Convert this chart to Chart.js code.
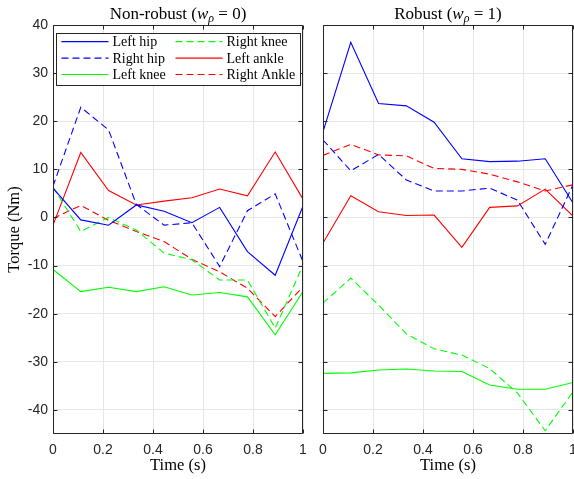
<!DOCTYPE html>
<html>
<head>
<meta charset="utf-8">
<script src="https://cdn.jsdelivr.net/npm/chart.js@4/dist/chart.umd.min.js"></script>
<style>
  body { margin: 0; background: #fff; }
  #wrap { position: relative; width: 574px; height: 479px; }
  #wrap canvas { position: absolute; left: 0; top: 0; }
</style>
</head>
<body>
<div id="wrap">
  <canvas id="nonrobust" width="574" height="479"></canvas>
  <canvas id="robust" width="574" height="479"></canvas>
</div>
<script>
// sample times (s), ten knots over one second
const time = [0, 1/9, 2/9, 3/9, 4/9, 5/9, 6/9, 7/9, 8/9, 1];
const xTicks = [0, 0.2, 0.4, 0.6, 0.8, 1];
const yTicks = [-40, -30, -20, -10, 0, 10, 20, 30, 40];

const jointNames = ['Left hip', 'Right hip', 'Left knee', 'Right knee', 'Left ankle', 'Right Ankle'];

// non-robust torques (Nm)
const nrLeftHip    = [6.1, -0.5, -1.6, 2.6, 1.3, -1.1, 2.1, -7.1, -12.0, 2.4];
const nrRightHip   = [6.5, 22.9, 18.2, 2.7, -1.6, -1.1, -10.2, 1.4, 4.9, -9.2];
const nrLeftKnee   = [-10.8, -15.4, -14.5, -15.4, -14.4, -16.1, -15.6, -16.5, -24.4, -15.4];
const nrRightKnee  = [6.3, -2.9, 0.0, -2.6, -7.4, -8.8, -13.0, -13.0, -23.0, -9.9];
const nrLeftAnkle  = [-1.6, 13.5, 5.6, 2.6, 3.4, 4.1, 5.9, 4.5, 13.6, 3.8];
const nrRightAnkle = [-0.2, 2.5, -0.6, -2.9, -5.0, -8.7, -11.3, -14.7, -20.6, -14.4];

// robust torques (Nm)
const rLeftHip    = [17.8, 36.4, 23.7, 23.2, 19.8, 12.2, 11.6, 11.7, 12.2, 3.0];
const rRightHip   = [16.1, 9.7, 13.1, 7.8, 5.5, 5.5, 6.1, 3.6, -5.6, 6.8];
const rLeftKnee   = [-32.4, -32.3, -31.7, -31.5, -31.9, -32.0, -34.8, -35.7, -35.7, -34.3];
const rRightKnee  = [-17.8, -12.6, -18.2, -24.2, -27.3, -28.6, -31.4, -36.5, -44.3, -36.2];
const rLeftAnkle  = [-5.3, 4.5, 1.2, 0.4, 0.5, -6.2, 2.1, 2.4, 5.9, 0.3];
const rRightAnkle = [12.9, 15.2, 13.0, 12.8, 10.2, 10.0, 9.0, 7.4, 5.5, 6.8];

const lineStyles = [
  { color: '#0000ff', dash: [] },
  { color: '#0000ff', dash: [7, 4] },
  { color: '#00ff00', dash: [] },
  { color: '#00ff00', dash: [7, 4] },
  { color: '#ff0000', dash: [] },
  { color: '#ff0000', dash: [7, 4] }
];

const axisColor = '#262626';
const sans = "'Liberation Sans', Arial, sans-serif";
const serif = "'Liberation Serif', 'Times New Roman', serif";

// matlab style box with inward ticks
const boxAxes = {
  id: 'boxAxes',
  afterDatasetsDraw(chart) {
    const { ctx, chartArea: a, scales } = chart;
    ctx.save();
    ctx.strokeStyle = axisColor;
    ctx.lineWidth = 1;
    ctx.setLineDash([]);
    ctx.beginPath();
    const L = Math.round(a.left) + 0.5, R = Math.round(a.right) - 0.5;
    const T = Math.round(a.top) + 0.5, B = Math.round(a.bottom) - 0.5;
    ctx.rect(L, T, R - L, B - T);
    const len = 4;
    yTicks.forEach(v => {
      const y = Math.round(scales.y.getPixelForValue(v)) + 0.5;
      ctx.moveTo(L, y); ctx.lineTo(L + len, y);
      ctx.moveTo(R, y); ctx.lineTo(R - len, y);
    });
    xTicks.forEach(v => {
      const x = Math.round(scales.x.getPixelForValue(v)) + 0.5;
      ctx.moveTo(x, B); ctx.lineTo(x, B - len);
      ctx.moveTo(x, T); ctx.lineTo(x, T + len);
    });
    ctx.stroke();
    ctx.restore();
  }
};

// title with italic w and subscript rho
const panelTitle = {
  id: 'panelTitle',
  afterDraw(chart, args, opts) {
    const { ctx, chartArea: a } = chart;
    const parts = [
      { t: opts.name + ' (', f: '17px ' + serif, dy: 0 },
      { t: 'w', f: 'italic 17px ' + serif, dy: 0 },
      { t: 'ρ', f: 'italic 12px ' + serif, dy: 3 },
      { t: ' = ' + opts.weight + ')', f: '17px ' + serif, dy: 0 }
    ];
    ctx.save();
    ctx.fillStyle = '#000';
    ctx.textBaseline = 'alphabetic';
    let total = 0;
    parts.forEach(p => { ctx.font = p.f; p.w = ctx.measureText(p.t).width; total += p.w; });
    let x = (a.left + a.right) / 2 - total / 2;
    parts.forEach(p => {
      ctx.font = p.f;
      ctx.fillText(p.t, x, 18.5 + p.dy);
      x += p.w;
    });
    ctx.restore();
  }
};

// two column legend in the upper corner
const colLegend = {
  id: 'colLegend',
  afterDraw(chart, args, opts) {
    if (!opts.show) return;
    const { ctx, chartArea: a } = chart;
    const bx = a.left + 3.5, by = a.top + 8.5, bw = 244, bh = 52;
    ctx.save();
    ctx.setLineDash([]);
    ctx.fillStyle = '#ffffff';
    ctx.fillRect(bx, by, bw, bh);
    ctx.strokeStyle = axisColor;
    ctx.lineWidth = 1;
    ctx.strokeRect(bx, by, bw, bh);
    ctx.font = '14px ' + serif;
    ctx.textBaseline = 'middle';
    jointNames.forEach((name, i) => {
      const col = Math.floor(i / 3), row = i % 3;
      const x0 = bx + 5 + col * 114;
      const y = by + 8.2 + row * 16.4;
      ctx.lineWidth = 1.2;
      ctx.strokeStyle = lineStyles[i].color;
      ctx.setLineDash(lineStyles[i].dash);
      ctx.beginPath();
      ctx.moveTo(x0, y);
      ctx.lineTo(x0 + 47, y);
      ctx.stroke();
      ctx.setLineDash([]);
      ctx.fillStyle = '#000000';
      ctx.fillText(name, x0 + 51, y + 1);
    });
    ctx.restore();
  }
};

function buildPanel(id, series, name, weight, first) {
  const datasets = series.map((vals, i) => ({
    label: jointNames[i],
    data: vals.map((v, k) => ({ x: time[k], y: v })),
    borderColor: lineStyles[i].color,
    backgroundColor: lineStyles[i].color,
    borderDash: lineStyles[i].dash,
    borderWidth: 1.1,
    pointRadius: 0,
    fill: false,
    tension: 0
  }));
  return new Chart(document.getElementById(id), {
    type: 'line',
    data: { datasets },
    options: {
      responsive: false,
      animation: false,
      layout: { padding: first ? { left: 0, top: 25, right: 271, bottom: 0 } : { left: 270, top: 25, right: 1, bottom: 0 } },
      plugins: {
        legend: { display: false },
        tooltip: { enabled: false },
        panelTitle: { name, weight },
        colLegend: { show: first }
      },
      scales: {
        x: {
          type: 'linear', min: 0, max: 1,
          afterBuildTicks: s => { s.ticks = xTicks.map(v => ({ value: v })); },
          afterFit: s => { s.height = 45; s.paddingLeft = 0; s.paddingRight = 0; },
          grid: { color: '#e6e6e6', drawTicks: false },
          border: { display: false },
          ticks: { padding: 8, color: axisColor, autoSkip: false, maxRotation: 0,
                   font: { family: sans, size: 14 }, callback: v => String(v) },
          title: { display: true, text: 'Time (s)', color: '#000',
                   font: { family: serif, size: 16.5 }, padding: { top: 0, bottom: 3 } }
        },
        y: {
          min: -45, max: 40,
          afterBuildTicks: s => { s.ticks = yTicks.map(v => ({ value: v })); },
          afterFit: s => { s.width = 53; s.paddingTop = 0; s.paddingBottom = 0; },
          grid: { color: '#e6e6e6', drawTicks: false },
          border: { display: false },
          ticks: { display: first, padding: 5, color: axisColor,
                   font: { family: sans, size: 14 }, callback: v => String(v) },
          title: { display: first, text: 'Torque (Nm)', color: '#000',
                   font: { family: serif, size: 16.5 }, padding: { top: 5, bottom: 0 } }
        }
      }
    },
    plugins: [boxAxes, panelTitle, colLegend]
  });
}

buildPanel('nonrobust',
  [nrLeftHip, nrRightHip, nrLeftKnee, nrRightKnee, nrLeftAnkle, nrRightAnkle],
  'Non-robust', '0', true);
buildPanel('robust',
  [rLeftHip, rRightHip, rLeftKnee, rRightKnee, rLeftAnkle, rRightAnkle],
  'Robust', '1', false);
</script>
</body>
</html>
